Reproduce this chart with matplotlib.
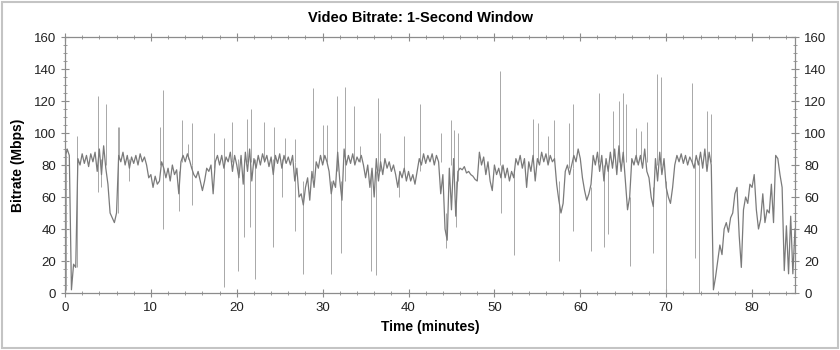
import matplotlib
matplotlib.use("Agg")
import matplotlib.pyplot as plt
import numpy as np
from matplotlib.ticker import MultipleLocator
from matplotlib.patches import Rectangle

plt.rcParams['font.family'] = ['Liberation Sans', 'DejaVu Sans']

# bitrate trace, read every 0.25 minutes (Mbps)
minutes = np.arange(0, 85.01, 0.25)
bitrate = [
    84, 90, 86, 2, 18, 16, 84, 80, 87, 81, 86, 79, 87, 82, 88, 76, 90, 74, 92, 78,      # 0-4.75
    68, 50, 47, 44, 50, 86, 82, 88, 80, 86, 78, 85, 81, 86, 80, 87, 82, 85, 80, 72,     # 5-9.75
    74, 66, 73, 68, 70, 82, 78, 72, 78, 70, 80, 74, 77, 62, 82, 86, 82, 87, 83, 78,     # 10-14.75
    74, 72, 76, 70, 64, 70, 78, 76, 80, 62, 82, 86, 80, 86, 78, 85, 82, 88, 76, 86,     # 15-19.75
    80, 72, 86, 68, 88, 76, 90, 70, 84, 78, 86, 80, 87, 82, 86, 79, 85, 74, 86, 81,     # 20-24.75
    87, 78, 86, 81, 85, 80, 86, 70, 78, 60, 62, 55, 66, 72, 58, 76, 66, 82, 78, 86,     # 25-29.75
    80, 86, 82, 76, 62, 70, 66, 88, 70, 58, 90, 80, 86, 81, 87, 80, 85, 82, 86, 80,     # 30-34.75
    72, 80, 66, 78, 60, 84, 70, 82, 74, 84, 78, 82, 76, 80, 74, 66, 76, 72, 78, 70,     # 35-39.75
    76, 70, 74, 68, 76, 84, 80, 87, 81, 86, 82, 87, 80, 86, 82, 62, 74, 40, 33, 78,     # 40-44.75
    52, 84, 48, 76, 78, 77, 79, 75, 76, 74, 73, 71, 70, 88, 80, 85, 74, 82, 70, 64,     # 45-49.75
    80, 74, 78, 72, 80, 72, 78, 70, 76, 72, 84, 80, 86, 78, 84, 66, 82, 76, 86, 70,     # 50-54.75
    84, 80, 88, 82, 87, 80, 86, 82, 84, 68, 58, 50, 56, 76, 80, 74, 80, 86, 82, 90,     # 55-59.75
    84, 72, 64, 58, 62, 68, 86, 80, 88, 76, 86, 70, 84, 76, 88, 78, 90, 74, 92, 76,     # 60-64.75
    88, 70, 52, 60, 84, 80, 86, 80, 86, 78, 90, 76, 72, 60, 54, 84, 70, 88, 74, 84,     # 65-69.75
    66, 60, 56, 66, 80, 86, 82, 87, 81, 86, 80, 85, 82, 78, 86, 80, 88, 78, 90, 76,     # 70-74.75
    88, 80, 2, 10, 20, 30, 24, 40, 44, 38, 47, 50, 62, 66, 36, 16, 52, 60, 56, 68,      # 75-79.75
    66, 74, 52, 40, 46, 62, 44, 52, 50, 68, 44, 86, 84, 74, 66, 14, 42, 12, 48, 12,     # 80-84.75
    40,                                                                                 # 85
]

# single-second spikes: time (min), start level, tip level
spike_t = [0.15, 1.45, 3.8, 3.9, 4.2, 4.75, 6.15, 6.32, 7.4, 11.05, 11.4, 11.43, 13.25, 13.6,
           14.3, 14.75, 14.8, 17.36, 18.49, 18.5, 19.49, 20.15, 20.85, 21.2, 21.59, 21.7, 22.09,
           23.14, 24.22, 24.34, 25.27, 25.58, 26.74, 26.76, 27.71, 28.88, 30.04, 30.5, 31.01,
           31.67, 32.17, 32.56, 33.64, 34.3, 35.66, 36.24, 36.43, 36.63, 38.88, 39.53, 41.39,
           43.8, 44.38, 44.96, 45.35, 45.54, 45.74, 50.7, 50.72, 52.25, 54.45, 55.03, 56.2,
           56.98, 57.48, 58.72, 59.1, 59.19, 61.24, 62.13, 62.79, 63.18, 63.76, 64.53, 64.92,
           65.31, 65.78, 66.45, 67.05, 67.71, 68.41, 68.88, 69.38, 69.96, 73.06, 73.37, 73.84,
           74.8, 75.19]
spike_from = [86, 16, 80, 84, 84, 80, 50, 84, 84, 80, 80, 80, 76, 82,
              84, 80, 80, 78, 84, 80, 82, 84, 84, 82, 84, 82, 84,
              82, 84, 80, 84, 82, 82, 82, 70, 72, 82, 82, 70,
              76, 70, 70, 82, 82, 76, 76, 76, 76, 76, 76, 76,
              82, 50, 80, 70, 70, 70, 80, 80, 76, 82, 82, 82,
              82, 70, 78, 78, 78, 66, 82, 80, 80, 82, 82, 82,
              82, 60, 82, 82, 82, 66, 80, 80, 70, 82, 82, 82,
              82, 82]
spike_to = [2, 98, 123, 63, 66, 118, 104, 104, 70, 104, 127, 40, 51, 108,
            93, 106, 55, 100, 4, 97, 107, 14, 35, 109, 41, 115, 9,
            107, 29, 104, 60, 97, 96, 39, 12, 128, 105, 105, 12,
            123, 25, 129, 117, 92, 14, 11, 122, 100, 60, 98, 118,
            100, 28, 108, 102, 41, 100, 139, 50, 24, 109, 106, 98,
            108, 20, 106, 39, 118, 26, 125, 29, 37, 114, 120, 125,
            118, 17, 103, 101, 107, 25, 137, 135, 0, 131, 22, 0,
            114, 112]

fig = plt.figure(figsize=(8.4, 3.5), dpi=100)
ax = fig.add_axes([65 / 840, 1 - 293 / 350, 730 / 840, 256 / 350])

ax.vlines(spike_t, spike_from, spike_to, color='#a8a8a8', lw=0.7)
ax.plot(minutes, bitrate, color='#7a7a7a', lw=0.9)

ax.set_xlim(0, 85)
ax.set_ylim(0, 160)
ax.xaxis.set_major_locator(MultipleLocator(10))
ax.xaxis.set_minor_locator(MultipleLocator(2))
ax.yaxis.set_major_locator(MultipleLocator(20))
ax.yaxis.set_minor_locator(MultipleLocator(5))
ax.tick_params(which='both', direction='inout', colors='#8c8c8c', labelcolor='#222222',
               labelsize=9.5, top=True, right=True, labelright=True)
ax.tick_params(which='major', length=6, width=0.8)
ax.tick_params(which='minor', length=3.5, width=0.6)
for s in ax.spines.values():
    s.set_color('#8c8c8c')
    s.set_linewidth(0.9)

ax.set_xlabel('Time (minutes)', fontsize=10, fontweight='bold', labelpad=4)
ax.set_ylabel('Bitrate (Mbps)', fontsize=10, fontweight='bold', labelpad=6)
fig.text(0.5, 1 - 18 / 350, 'Video Bitrate: 1-Second Window', ha='center', va='center',
         fontsize=10.5, fontweight='bold')

fig.patches.append(Rectangle((2 / 840, 2 / 350), 836 / 840, 346 / 350, transform=fig.transFigure,
                             fill=False, edgecolor='#c4c4c4', lw=1.5))

fig.savefig('out.png', dpi=100)
